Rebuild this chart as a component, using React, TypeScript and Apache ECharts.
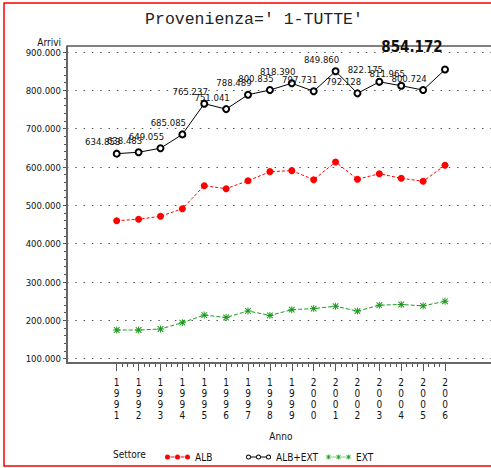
import React, { useEffect, useRef } from "react";
import * as echarts from "echarts";

const years = [1991, 1992, 1993, 1994, 1995, 1996, 1997, 1998, 1999, 2000, 2001, 2002, 2003, 2004, 2005, 2006];
const alb = [460000, 463700, 471500, 491300, 551300, 543500, 564000, 587900, 590500, 567000, 613000, 568000, 582600, 570600, 562800, 604500];
const albExt = [634853, 638483, 649055, 685085, 765237, 751041, 788489, 800835, 818390, 797731, 849860, 792128, 822175, 811965, 800724, 854172];
const ext = [174900, 174800, 177500, 194000, 213900, 207500, 224500, 212900, 227900, 230700, 236900, 224100, 239600, 241400, 237900, 249700];
const yTicks = [100000, 200000, 300000, 400000, 500000, 600000, 700000, 800000, 900000];
const titleText = "Provenienza=' 1-TUTTE'";
const seriesNames = ["ALB", "ALB+EXT", "EXT"];

const COND = "'DejaVu Sans Condensed', 'DejaVu Sans', sans-serif";

const fmt = (v: number) => {
  const k = Math.floor(v / 1000);
  const r = Math.round(v % 1000);
  return `${k}.${String(r).padStart(3, "0")}`;
};

const asterisk =
  "path://M0 4.3H10V5.7H0Z M4.3 0H5.7V10H4.3Z M1.5 0.5L9.5 8.5L8.5 9.5L0.5 1.5Z M8.5 0.5L9.5 1.5L1.5 9.5L0.5 8.5Z";

const circ = (cx: number, r: number, cy: number, cw: boolean) =>
  `M${cx - r} ${cy}A${r} ${r} 0 1 ${cw ? 1 : 0} ${cx + r} ${cy}A${r} ${r} 0 1 ${cw ? 1 : 0} ${cx - r} ${cy}Z`;

const iconAlb =
  "path://" + [2.5, 12.5, 22.5].map((c) => circ(c, 2.5, 2.5, true)).join(" ") +
  " M5.5 2.1H9.5V2.9H5.5Z M15.5 2.1H19.5V2.9H15.5Z";
const iconAlbExt =
  "path://" + [2.5, 12.5, 22.5].map((c) => circ(c, 2.5, 2.5, true) + " " + circ(c, 1.6, 2.5, false)).join(" ") +
  " M5 2.1H10V2.9H5Z M15 2.1H20V2.9H15Z";
const starAt = (ox: number) => {
  const s = 0.5;
  const p = (x: number, y: number) => `${(ox + x * s).toFixed(2)} ${(y * s).toFixed(2)}`;
  return `M${p(0, 4.3)}L${p(10, 4.3)}L${p(10, 5.7)}L${p(0, 5.7)}Z M${p(4.3, 0)}L${p(5.7, 0)}L${p(5.7, 10)}L${p(4.3, 10)}Z M${p(1.5, 0.5)}L${p(9.5, 8.5)}L${p(8.5, 9.5)}L${p(0.5, 1.5)}Z M${p(8.5, 0.5)}L${p(9.5, 1.5)}L${p(1.5, 9.5)}L${p(0.5, 8.5)}Z`;
};
const iconExt =
  "path://" + [0, 10, 20].map((o) => starAt(o)).join(" ") + " M5 2.3H10V2.7H5Z M15 2.3H20V2.7H15Z";

const legendIcons = [iconAlb, iconAlbExt, iconExt];
const colors = ["#ff0000", "#000000", "#1f9a1f"];
const legendLefts = [160, 241, 321];

export default function App() {
  const ref = useRef<HTMLDivElement>(null);

  useEffect(() => {
    if (!ref.current) return;
    const chart = echarts.init(ref.current, null, { renderer: "svg" });
    const last = albExt.length - 1;

    chart.setOption({
      animation: false,
      backgroundColor: "#ffffff",
      title: {
        text: titleText,
        left: 249,
        top: 6,
        textAlign: "center",
        textStyle: { fontFamily: "'Liberation Mono', 'DejaVu Sans Mono', monospace", fontSize: 16.5, fontWeight: "normal", color: "#222" },
      },
      legend: seriesNames.map((n, i) => ({
        left: legendLefts[i],
        top: 447,
        itemWidth: 25,
        itemHeight: 5,
        selectedMode: false,
        textStyle: { fontFamily: COND, fontSize: 10, color: "#111" },
        data: [{ name: n, icon: legendIcons[i], itemStyle: { color: colors[i], borderWidth: 0 } }],
      })),
      grid: [
        { left: 67, right: 0, top: 52, bottom: 109.3 },
        { left: 116.7, right: 46, top: 52, bottom: 109.3 },
      ],
      xAxis: [
        { gridIndex: 0, type: "value", min: 0, max: 1, show: false },
        {
          gridIndex: 1,
          type: "value",
          min: years[0],
          max: years[years.length - 1],
          interval: 1,
          offset: 4.3,
          name: "Anno",
          nameLocation: "middle",
          nameGap: 68,
          nameTextStyle: { fontFamily: COND, fontSize: 10, color: "#111" },
          axisLine: { show: false },
          axisTick: { show: true, length: 8, lineStyle: { color: "#555" } },
          minorTick: { show: true, splitNumber: 4, length: 4, lineStyle: { color: "#555" } },
          splitLine: { show: false },
          axisLabel: {
            margin: 14,
            fontFamily: COND,
            fontSize: 10,
            lineHeight: 11,
            color: "#111",
            formatter: (v: number) => String(v).split("").join("\n"),
          },
        },
      ],
      yAxis: [
        {
          gridIndex: 0,
          type: "value",
          min: yTicks[0],
          max: yTicks[yTicks.length - 1],
          interval: 100000,
          name: "Arrivi",
          nameLocation: "end",
          nameGap: 4,
          nameTextStyle: { fontFamily: COND, fontSize: 10, color: "#111", align: "right", padding: [0, 6, 0, 0] },
          axisLine: { show: false },
          axisTick: { show: true, length: 4, lineStyle: { color: "#555" } },
          minorTick: { show: true, splitNumber: 5, length: 3, lineStyle: { color: "#555" } },
          axisLabel: { margin: 6, fontFamily: COND, fontSize: 9.5, color: "#111", formatter: (v: number) => fmt(v) },
          splitLine: { show: true, lineStyle: { color: "#555", width: 1, type: [1.5, 6.8] } },
        },
        {
          gridIndex: 1,
          type: "value",
          min: yTicks[0],
          max: yTicks[yTicks.length - 1],
          show: false,
        },
      ],
      graphic: [
        { type: "rect", shape: { x: 4, y: 3, width: 500, height: 463 }, style: { fill: "none", stroke: "#ff0000", lineWidth: 1.5 }, silent: true },
        { type: "line", shape: { x1: 67, y1: 46, x2: 491, y2: 46 }, style: { stroke: "#000", lineWidth: 1 }, silent: true, z: 1 },
        { type: "line", shape: { x1: 67, y1: 45.5, x2: 67, y2: 364 }, style: { stroke: "#666", lineWidth: 2 }, silent: true, z: 1 },
        { type: "line", shape: { x1: 66, y1: 363, x2: 491, y2: 363 }, style: { stroke: "#666", lineWidth: 2 }, silent: true, z: 1 },
        { type: "text", left: 113, top: 449, style: { text: "Settore", font: `10px ${COND}`, fill: "#111" }, silent: true },
      ],
      series: [
        {
          name: seriesNames[0],
          type: "line",
          xAxisIndex: 1,
          yAxisIndex: 1,
          data: years.map((y, i) => [y, alb[i]]),
          symbol: "circle",
          symbolSize: 7,
          itemStyle: { color: colors[0] },
          lineStyle: { color: colors[0], width: 1, type: [3, 2] },
          z: 3,
        },
        {
          name: seriesNames[1],
          type: "line",
          xAxisIndex: 1,
          yAxisIndex: 1,
          data: years.map((y, i) =>
            i === last
              ? {
                  value: [y, albExt[i]],
                  label: { fontSize: 15, fontWeight: "bold", color: "#111" },
                }
              : [y, albExt[i]]
          ),
          symbol: "emptyCircle",
          symbolSize: 6,
          itemStyle: { color: colors[1], borderColor: colors[1], borderWidth: 1 },
          lineStyle: { color: colors[1], width: 1 },
          label: {
            show: true,
            position: "top",
            distance: 3,
            fontFamily: COND,
            fontSize: 9.5,
            color: "#111",
            formatter: (p: any) => fmt(p.value[1]),
          },
          labelLayout: (p: any) =>
            p.dataIndex === last
              ? { dx: -33, dy: -8, hideOverlap: false }
              : { dx: -14, dy: 0, hideOverlap: false },
          z: 4,
        },
        {
          name: seriesNames[2],
          type: "line",
          xAxisIndex: 1,
          yAxisIndex: 1,
          data: years.map((y, i) => [y, ext[i]]),
          symbol: asterisk,
          symbolSize: 7,
          itemStyle: { color: colors[2] },
          lineStyle: { color: colors[2], width: 1, type: [4, 2] },
          z: 3,
        },
      ],
    });

    return () => chart.dispose();
  }, []);

  return (
    <div
      ref={ref}
      style={{ position: "absolute", left: 0, top: 0, width: 491, height: 468 }}
    />
  );
}
